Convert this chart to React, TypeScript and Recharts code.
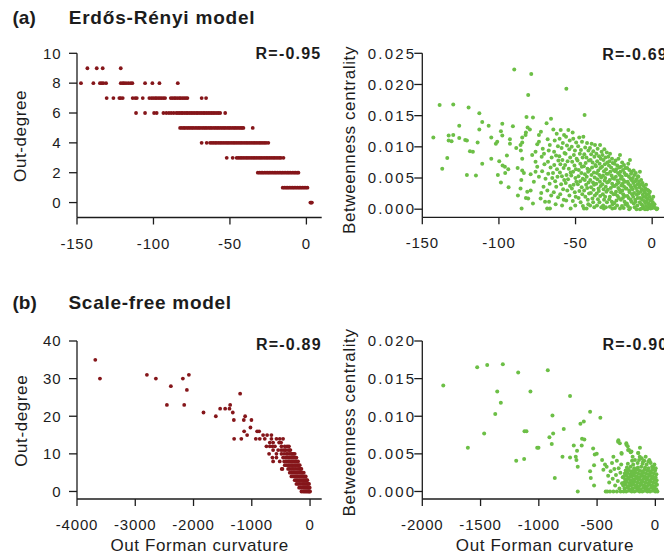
import React from 'react';
import { ScatterChart, Scatter, XAxis, YAxis } from 'recharts';

const FONT = 'Arial, "Liberation Sans", Helvetica, sans-serif';
const INK = '#1c1c1c';
const RED = '#85161a';
const GREEN = '#6cbf46';

// ---------- tick values / labels ----------
const erCurvTicks = [-150, -100, -50, 0];
const erDegTicks = [0, 2, 4, 6, 8, 10];
const erBetTicks = [0, 0.005, 0.01, 0.015, 0.02, 0.025];
const sfCurvTicksDeg = [-4000, -3000, -2000, -1000, 0];
const sfCurvTicksBet = [-2000, -1500, -1000, -500, 0];
const sfDegTicks = [0, 10, 20, 30, 40];
const sfBetTicks = [0, 0.005, 0.01, 0.015, 0.02];
const rLabels = ['R=-0.95', 'R=-0.69', 'R=-0.89', 'R=-0.90'];
const panelTitles = ['(a)', 'Erdős-Rényi model', '(b)', 'Scale-free model'];
const axisLabels = ['Out-degree', 'Betweenness centrality', 'Out Forman curvature'];

// ---------- Erdős-Rényi: out-degree vs out Forman curvature ----------
const erDegreeBands: { deg: number; curv: number[] }[] = [
  { deg: 9, curv: [-143.2, -137.1, -133.2, -121.4] },
  { deg: 8, curv: [-147.4, -139.3, -135.0, -133.9, -132.8, -131.0, -121.4, -120.1, -119.2, -117.9, -116.4, -114.9, -113.8, -105.5, -100.7, -96.1, -84.1] },
  { deg: 7, curv: [-130.6, -126.2, -122.3, -121.4, -120.1, -113.6, -112.0, -110.9, -107.0, -102.7, -101.3, -100.2, -99.0, -98.1, -96.9, -95.8, -94.7, -93.5, -92.4, -88.7, -87.6, -86.4, -85.5, -84.3, -83.1, -82.2, -81.0, -79.9, -78.8, -77.8, -68.5, -65.6] },
  { deg: 6, curv: [-111.4, -105.5, -99.6, -97.9, -93.5, -91.6, -89.9, -88.4, -86.8, -85.1, -84.0, -82.9, -81.7, -80.8, -79.6, -78.4, -77.5, -76.3, -75.2, -74.1, -73.0, -71.8, -70.9, -69.7, -68.6, -67.4, -66.5, -65.3, -64.2, -63.1, -62.0, -60.9, -59.8, -58.6, -57.5, -56.4, -53.1] },
  { deg: 5, curv: [-82.6, -81.5, -80.3, -79.4, -78.2, -77.1, -76.0, -74.9, -73.9, -72.7, -71.6, -70.5, -69.5, -68.3, -67.2, -66.1, -65.1, -63.9, -62.8, -61.8, -60.6, -59.5, -58.4, -57.4, -56.2, -55.1, -54.0, -53.0, -51.8, -50.7, -49.7, -48.5, -47.4, -46.4, -45.3, -44.2, -43.1, -42.1, -41.2, -35.1] },
  { deg: 4, curv: [-68.5, -65.2, -63.0, -61.9, -60.8, -59.7, -58.7, -57.5, -56.4, -55.4, -54.3, -53.2, -52.1, -51.1, -50.0, -48.9, -47.8, -46.8, -45.7, -44.6, -43.5, -42.5, -41.4, -40.3, -39.2, -38.2, -37.1, -36.0, -34.9, -33.9, -32.8, -31.7, -30.6, -29.6, -28.5, -27.4, -26.3, -24.9] },
  { deg: 3, curv: [-52.1, -48.2, -45.6, -44.5, -43.4, -42.4, -41.3, -40.2, -39.1, -38.1, -37.0, -35.9, -34.8, -33.8, -32.7, -31.6, -30.5, -29.5, -28.4, -27.3, -26.2, -25.2, -24.1, -23.0, -21.9, -20.9, -19.8, -18.7, -17.6, -16.6, -15.0] },
  { deg: 2, curv: [-31.8, -30.7, -29.6, -28.6, -27.5, -26.4, -25.3, -24.3, -23.2, -22.1, -21.0, -20.0, -18.9, -17.8, -16.7, -15.7, -14.6, -13.5, -12.4, -11.4, -10.3, -9.2, -8.1, -7.1, -6.0, -5.2] },
  { deg: 1, curv: [-15.5, -14.4, -13.3, -12.3, -11.2, -10.1, -9.0, -8.0, -6.9, -5.8, -4.7, -3.7, -2.6, -1.5, -0.4, 0.7] },
  { deg: 0, curv: [2.6, 3.1, 3.6] },
];

// ---------- Erdős-Rényi: betweenness vs out Forman curvature [curv, betweenness] ----------
const erBetweenness: [number, number][] = [
  [-142.8, 0.0115], [-138.7, 0.0167], [-137.0, 0.0065], [-133.7, 0.0082], [-132.8, 0.0118], [-132.8, 0.011], [-130.9, 0.0109], [-129.8, 0.0168], [-129.8, 0.0119], [-125.9, 0.0134], [-125.9, 0.0114], [-122.0, 0.0111], [-120.9, 0.011], [-120.9, 0.0055], [-119.8, 0.0163], [-118.9, 0.0093], [-117.0, 0.0092], [-115.0, 0.0054], [-113.9, 0.0107], [-112.8, 0.0154], [-112.8, 0.0128], [-110.9, 0.014], [-110.9, 0.0073], [-106.7, 0.0134], [-105.0, 0.0115], [-105.0, 0.0081], [-102.0, 0.0105], [-101.1, 0.0108], [-100.7, 0.0055], [-99.8, 0.0077], [-98.7, 0.0125], [-98.7, 0.0043], [-97.8, 0.0137], [-97.8, 0.0118], [-97.6, 0.007], [-96.1, 0.0068], [-95.9, 0.0058], [-94.8, 0.0086], [-93.9, 0.0064], [-93.7, 0.0035], [-92.8, 0.0112], [-92.8, 0.0105], [-90.9, 0.0133], [-90.0, 0.0224], [-88.7, 0.0098], [-87.8, 0.0066], [-87.6, 0.0022], [-85.9, 0.0103], [-85.9, 0.0033], [-85.7, 0.0094], [-85.4, 0.0047], [-85.2, 0.0001], [-84.8, 0.0115], [-84.8, 0.0107], [-84.8, 0.0081], [-84.8, 0.0062], [-83.7, 0.0058], [-82.6, 0.0119], [-82.4, 0.0123], [-82.4, 0.0018], [-82.0, 0.0148], [-81.5, 0.0028], [-81.3, 0.0131], [-80.9, 0.0183], [-80.9, 0.0017], [-79.8, 0.0128], [-79.3, 0.0056], [-79.3, 0.003], [-78.9, 0.0217], [-78.3, 0.0087], [-77.8, 0.0147], [-77.8, 0.0009], [-77.2, 0.0044], [-76.1, 0.0092], [-76.1, 0.0076], [-76.1, 0.006], [-75.0, 0.0104], [-75.0, 0.0068], [-73.9, 0.0119], [-73.9, 0.0108], [-73.9, 0.0052], [-72.8, 0.0017],
  [-72.6, 0.0124], [-71.4, 0.0097], [-72.1, 0.0084], [-70.3, 0.0072], [-71.8, 0.0061], [-69.6, 0.0049], [-70.9, 0.0036], [-72.4, 0.0026], [-69.9, 0.0012], [-70.6, 0.0089],
  [-68.9, 0.0138], [-66.0, 0.0145], [-68.2, 0.0112], [-66.8, 0.0103], [-67.5, 0.0094], [-65.6, 0.0083], [-68.0, 0.0076], [-66.3, 0.0067], [-67.8, 0.0057], [-65.2, 0.005], [-66.9, 0.0041], [-68.4, 0.003], [-65.9, 0.0022], [-67.3, 0.0012], [-68.5, 0.0001], [-66.7, 0.0001],
  [-64.5, 0.0128], [-62.3, 0.0121], [-63.6, 0.011], [-61.5, 0.0101], [-64.0, 0.0092], [-62.7, 0.0086], [-61.2, 0.0078], [-63.9, 0.0071], [-62.1, 0.0064], [-64.7, 0.0058], [-61.8, 0.0052], [-63.3, 0.0045], [-62.6, 0.0036], [-64.2, 0.0027], [-61.4, 0.0019], [-63.0, 0.0008],
  [-59.7, 0.0127], [-57.5, 0.0119], [-60.4, 0.0113], [-58.3, 0.0106], [-59.1, 0.0098], [-57.2, 0.009], [-60.6, 0.0085], [-58.6, 0.0079], [-59.9, 0.0072], [-57.8, 0.0066], [-60.2, 0.0059], [-58.9, 0.0053], [-57.4, 0.0047], [-59.4, 0.004], [-58.1, 0.0032], [-60.0, 0.0024], [-57.7, 0.0015], [-58.8, 0.0006], [-56.0, 0.0193],
  [-54.7, 0.0127], [-56.2, 0.0116], [-53.8, 0.011], [-55.6, 0.0102], [-54.1, 0.0096], [-56.5, 0.0089], [-53.5, 0.0083], [-55.2, 0.0077], [-56.8, 0.0071], [-54.4, 0.0065], [-53.2, 0.0059], [-55.9, 0.0055], [-54.9, 0.0048], [-56.4, 0.0042], [-53.6, 0.0037], [-55.4, 0.003], [-54.0, 0.0022], [-56.1, 0.0014], [-53.2, 0.0001],
  [-51.9, 0.0123], [-51.5, 0.0113], [-49.6, 0.0107], [-52.5, 0.01], [-50.4, 0.0094], [-51.1, 0.0087], [-49.3, 0.0081], [-52.2, 0.0076], [-50.7, 0.007], [-49.8, 0.0064], [-51.6, 0.006], [-52.8, 0.0054], [-50.1, 0.005], [-49.5, 0.0044], [-51.3, 0.0039], [-52.4, 0.0033], [-50.5, 0.0027], [-49.9, 0.002], [-51.8, 0.0013], [-50.2, 0.0006],
  [-47.6, 0.0115], [-45.8, 0.0108], [-48.3, 0.0101], [-46.5, 0.0095], [-47.2, 0.0089], [-45.4, 0.0083], [-48.7, 0.0078], [-46.9, 0.0073], [-45.9, 0.0068], [-47.9, 0.0063], [-46.2, 0.0058], [-48.1, 0.0053], [-45.3, 0.0049], [-47.0, 0.0045], [-48.5, 0.004], [-46.0, 0.0035], [-47.5, 0.0029], [-45.6, 0.0024], [-48.0, 0.0018], [-46.7, 0.0011], [-45.2, 0.0005],
  [-44.9, 0.0116], [-44.1, 0.0151], [-42.5, 0.0106], [-43.7, 0.0099], [-41.6, 0.0094], [-44.3, 0.0088], [-42.9, 0.0083], [-41.3, 0.0078], [-43.4, 0.0074], [-44.6, 0.0069], [-42.2, 0.0065], [-41.8, 0.006], [-43.9, 0.0056], [-42.7, 0.0052], [-44.0, 0.0047], [-41.5, 0.0043], [-43.1, 0.0039], [-42.4, 0.0034], [-44.4, 0.003], [-41.2, 0.0025], [-43.6, 0.002], [-42.0, 0.0015], [-44.5, 0.0001], [-42.8, 0.0001], [-41.7, 0.0008],
  [-39.5, 0.0105], [-37.3, 0.0103], [-40.6, 0.0098], [-38.4, 0.0093], [-39.8, 0.0088], [-37.7, 0.0084], [-40.2, 0.0079], [-38.9, 0.0075], [-37.1, 0.0071], [-39.2, 0.0067], [-40.8, 0.0063], [-38.0, 0.0059], [-39.6, 0.0055], [-37.5, 0.0051], [-40.4, 0.0047], [-38.6, 0.0043], [-37.9, 0.0039], [-39.9, 0.0035], [-38.2, 0.0031], [-40.0, 0.0026], [-37.4, 0.0022], [-39.0, 0.0017], [-38.5, 0.0011], [-40.5, 0.0006], [-37.8, 0.0003],
  [-34.0, 0.0103], [-33.0, 0.0092], [-35.6, 0.0097], [-36.4, 0.0089], [-34.7, 0.0085], [-33.5, 0.0081], [-35.9, 0.0077], [-34.3, 0.0073], [-36.7, 0.0069], [-33.8, 0.0066], [-35.2, 0.0062], [-36.1, 0.0058], [-34.5, 0.0055], [-33.3, 0.0051], [-35.7, 0.0048], [-34.1, 0.0044], [-36.5, 0.0041], [-33.6, 0.0037], [-35.0, 0.0033], [-34.8, 0.0029], [-36.2, 0.0025], [-33.9, 0.0021], [-35.4, 0.0016], [-34.4, 0.0011], [-36.0, 0.0006], [-33.2, 0.0003],
  [-31.2, 0.0096], [-29.6, 0.0091], [-32.4, 0.0087], [-30.5, 0.0083], [-31.8, 0.0079], [-29.3, 0.0075], [-30.9, 0.0072], [-32.7, 0.0068], [-30.1, 0.0064], [-31.5, 0.0061], [-29.8, 0.0057], [-32.1, 0.0054], [-30.6, 0.005], [-31.0, 0.0046], [-29.4, 0.0043], [-32.5, 0.004], [-30.3, 0.0036], [-31.7, 0.0032], [-29.9, 0.0028], [-32.2, 0.0024], [-30.7, 0.002], [-31.4, 0.0015], [-29.5, 0.0011], [-32.0, 0.0006], [-31.5, 0.0001], [-30.2, 0.0003],
  [-27.5, 0.0089], [-28.6, 0.0084], [-26.2, 0.0081], [-27.9, 0.0077], [-25.7, 0.0074], [-28.2, 0.007], [-26.8, 0.0067], [-25.3, 0.0063], [-27.3, 0.006], [-28.8, 0.0057], [-26.5, 0.0054], [-25.9, 0.005], [-27.7, 0.0047], [-28.4, 0.0044], [-26.1, 0.0041], [-25.5, 0.0037], [-27.0, 0.0034], [-28.9, 0.0031], [-26.7, 0.0027], [-25.2, 0.0024], [-27.6, 0.002], [-28.0, 0.0016], [-26.3, 0.0012], [-25.8, 0.0008], [-27.6, 0.0004], [-26.0, 0.0001],
  [-22.0, 0.0081], [-21.0, 0.0087], [-23.9, 0.0078], [-24.6, 0.0073], [-22.8, 0.007], [-21.5, 0.0067], [-23.4, 0.0064], [-24.2, 0.0061], [-22.3, 0.0058], [-21.2, 0.0055], [-23.7, 0.0052], [-24.8, 0.0049], [-22.6, 0.0046], [-21.8, 0.0043], [-23.1, 0.004], [-24.4, 0.0037], [-22.1, 0.0034], [-21.4, 0.0031], [-23.6, 0.0028], [-24.0, 0.0024], [-22.5, 0.0021], [-21.7, 0.0018], [-23.3, 0.0014], [-24.7, 0.001], [-22.9, 0.0006], [-21.0, 0.0001], [-24.3, 0.0002],
  [-19.6, 0.0075], [-18.4, 0.0071], [-20.3, 0.0068], [-17.5, 0.0066], [-19.0, 0.0063], [-20.7, 0.006], [-18.1, 0.0058], [-17.3, 0.0055], [-19.8, 0.0052], [-20.5, 0.0049], [-18.7, 0.0047], [-17.7, 0.0044], [-19.3, 0.0041], [-20.1, 0.0038], [-18.3, 0.0036], [-17.2, 0.0033], [-19.5, 0.003], [-20.8, 0.0027], [-18.9, 0.0024], [-17.9, 0.0021], [-19.1, 0.0018], [-20.4, 0.0015], [-18.0, 0.0012], [-17.4, 0.0008], [-19.7, 0.0005], [-18.6, 0.0002],
  [-15.6, 0.0073], [-14.5, 0.0079], [-13.4, 0.006], [-16.3, 0.0066], [-14.9, 0.0063], [-13.8, 0.0057], [-16.6, 0.0055], [-15.2, 0.0052], [-14.1, 0.0049], [-13.2, 0.0046], [-16.0, 0.0044], [-15.5, 0.0041], [-14.3, 0.0038], [-13.6, 0.0035], [-16.8, 0.0033], [-15.0, 0.003], [-14.7, 0.0027], [-13.1, 0.0024], [-16.2, 0.0021], [-15.3, 0.0018], [-14.0, 0.0015], [-13.5, 0.0012], [-16.5, 0.0009], [-15.8, 0.0005], [-14.4, 0.0002], [-15.0, 0.0],
  [-12.1, 0.0062], [-10.7, 0.0058], [-11.6, 0.0055], [-9.3, 0.0053], [-12.6, 0.005], [-10.2, 0.0048], [-11.0, 0.0045], [-9.0, 0.0052], [-12.3, 0.0042], [-9.6, 0.004], [-11.3, 0.0037], [-10.5, 0.0034], [-12.8, 0.0032], [-9.8, 0.0029], [-11.8, 0.0026], [-10.0, 0.0023], [-12.4, 0.002], [-9.4, 0.0018], [-11.1, 0.0015], [-10.8, 0.0012], [-12.0, 0.0009], [-9.7, 0.0006], [-11.5, 0.0003], [-10.2, 0.0],
  [-8.0, 0.006], [-7.2, 0.0047], [-8.6, 0.0044], [-6.3, 0.0042], [-7.7, 0.0039], [-5.6, 0.0037], [-8.3, 0.0035], [-6.8, 0.0032], [-5.3, 0.003], [-7.4, 0.0028], [-8.8, 0.0025], [-6.1, 0.0023], [-5.8, 0.002], [-7.9, 0.0018], [-6.6, 0.0015], [-5.1, 0.0013], [-8.1, 0.0011], [-7.0, 0.0008], [-6.0, 0.0005], [-8.0, 0.0], [-6.9, 0.0001], [-5.5, 0.0002],
  [-4.0, 0.0039], [-2.5, 0.003], [-1.5, 0.0028], [-4.5, 0.0033], [-3.3, 0.0031], [-2.1, 0.0025], [-4.8, 0.0027], [-3.7, 0.0023], [-1.8, 0.002], [-4.2, 0.0019], [-2.9, 0.0017], [-1.2, 0.0014], [-3.5, 0.0013], [-4.6, 0.001], [-2.3, 0.0009], [-1.6, 0.0006], [-3.9, 0.0005], [-2.7, 0.0002], [-4.7, 0.0], [-3.2, 0.0], [-1.0, 0.0001],
  [0.7, 0.002], [-0.3, 0.0016], [0.4, 0.0011], [1.5, 0.0008], [-0.6, 0.0007], [0.9, 0.0004], [2.0, 0.0002], [3.3, 0.0001], [2.9, 0.0], [0.1, 0.0002],
];

// ---------- Scale-free: out-degree vs out Forman curvature ----------
const sfDegreeBands: { deg: number; curv: number[] }[] = [
  { deg: 35, curv: [-3686] },
  { deg: 31, curv: [-2800, -2080] },
  { deg: 30, curv: [-3606, -2646, -2183] },
  { deg: 28, curv: [-2389] },
  { deg: 27, curv: [-2114] },
  { deg: 26, curv: [-1200] },
  { deg: 23, curv: [-2457, -2160, -1371] },
  { deg: 22, curv: [-1543, -1457, -1383] },
  { deg: 21, curv: [-1829, -1326] },
  { deg: 20, curv: [-1617, -1114] },
  { deg: 19, curv: [-1308, -1137, -1006] },
  { deg: 17, curv: [-1023] },
  { deg: 16, curv: [-1131, -908, -874] },
  { deg: 15, curv: [-1080, -806, -737, -663] },
  { deg: 14, curv: [-1303, -1180, -931, -863, -777, -663, -577, -520, -463] },
  { deg: 13, curv: [-691, -634, -531, -497] },
  { deg: 12, curv: [-749, -691, -646, -602, -491, -434, -394, -362] },
  { deg: 11, curv: [-634, -548, -497, -463, -431, -417, -377, -352, -337] },
  { deg: 10, curv: [-703, -577, -491, -446, -406, -381, -348, -322, -303, -281, -263] },
  { deg: 9, curv: [-646, -577, -463, -423, -398, -374, -352, -326, -301, -277, -252, -234] },
  { deg: 8, curv: [-634, -520, -444, -412, -377, -349, -324, -298, -273, -250, -229, -206] },
  { deg: 7, curv: [-434, -402, -371, -344, -318, -296, -269, -244, -221, -199, -177] },
  { deg: 6, curv: [-486, -474, -377, -352, -326, -301, -276, -252, -224, -199, -176, -160, -148] },
  { deg: 5, curv: [-348, -318, -294, -268, -243, -221, -196, -171, -149, -130, -108] },
  { deg: 4, curv: [-320, -292, -263, -238, -216, -191, -166, -141, -118, -96, -74] },
  { deg: 3, curv: [-263, -238, -214, -189, -166, -141, -119, -99, -79, -61, -46] },
  { deg: 2, curv: [-234, -207, -182, -156, -131, -109, -89, -68, -49, -31, -17] },
  { deg: 1, curv: [-188, -161, -133, -109, -88, -69, -51, -34, -19, -6] },
  { deg: 0, curv: [-148, -119, -94, -72, -51, -31, -14, 0] },
];

// ---------- Scale-free: betweenness vs out Forman curvature [curv, betweenness] ----------
const sfBetweenness: [number, number][] = [
  [-1820, 0.0141], [-1609, 0.0058], [-1529, 0.0165], [-1443, 0.0168], [-1309, 0.0169], [-1177, 0.0158], [-923, 0.0161], [-1357, 0.0133], [-1326, 0.0118], [-1374, 0.0103], [-1469, 0.0077], [-1194, 0.0041], [-1126, 0.0043], [-1123, 0.008], [-1106, 0.008], [-1072, 0.0133], [-1014, 0.0058], [-1003, 0.0058], [-883, 0.0101], [-909, 0.0072], [-877, 0.0077], [-889, 0.0063], [-863, 0.0018], [-786, 0.0083], [-732, 0.0127], [-797, 0.0046], [-732, 0.0045], [-700, 0.0061], [-683, 0.0046], [-677, 0.0042], [-672, 0.0054], [-666, 0.0033], [-666, 0.0], [-643, 0.009], [-614, 0.0093], [-632, 0.0061], [-629, 0.007], [-609, 0.0069], [-560, 0.0106], [-560, 0.0027], [-554, 0.0018], [-534, 0.0057], [-526, 0.0035], [-526, 0.0008], [-520, 0.0049], [-503, 0.005], [-472, 0.0098], [-457, 0.0042], [-446, 0.0029], [-432, 0.0036], [-426, 0.0], [-389, 0.0],
  [-360, 0.0046], [-320, 0.0066], [-317, 0.0068], [-305, 0.0064], [-291, 0.0051], [-289, 0.005], [-248, 0.0062], [-249, 0.0064], [-237, 0.006], [-234, 0.0055], [-226, 0.0055], [-212, 0.0052], [-205, 0.0053], [-195, 0.0046], [-175, 0.0042], [-148, 0.0051], [-146, 0.0051], [-134, 0.0046], [-132, 0.0058], [-117, 0.0044], [-105, 0.004], [-83, 0.0046], [-60, 0.004], [-48, 0.004], [-20, 0.0033],
  [-418, 0.0033], [-405, 0.0021], [-396, 0.0012], [-384, 0.0027], [-372, 0.0038], [-366, 0.0017], [-352, 0.003], [-345, 0.0008], [-338, 0.0022], [-330, 0.0041], [-322, 0.0014], [-315, 0.0031], [-308, 0.0004], [-300, 0.0025], [-293, 0.0036], [-286, 0.0011], [-280, 0.0019], [-412, 0.0], [-360, 0.0], [-330, 0.0], [-298, 0.0],
  [-272, 0.0], [-250, 0.0], [-226, 0.0001], [-203, 0.0], [-180, 0.0], [-158, 0.0001], [-135, 0.0], [-112, 0.0], [-90, 0.0001], [-68, 0.0], [-45, 0.0], [-22, 0.0001], [0, 0.0], [18, 0.0],
  [-265, 0.0004], [-241, 0.0005], [-219, 0.0003], [-196, 0.0004], [-172, 0.0005], [-149, 0.0004], [-127, 0.0003], [-104, 0.0005], [-81, 0.0004], [-59, 0.0003], [-36, 0.0005], [-13, 0.0004], [8, 0.0003],
  [-276, 0.0008], [-254, 0.0009], [-231, 0.0007], [-208, 0.0008], [-186, 0.0009], [-163, 0.0008], [-140, 0.0007], [-118, 0.0009], [-95, 0.0008], [-72, 0.0007], [-50, 0.0009], [-27, 0.0008], [-4, 0.0007], [14, 0.0009],
  [-268, 0.0012], [-245, 0.0013], [-222, 0.0011], [-199, 0.0012], [-177, 0.0013], [-154, 0.0012], [-131, 0.0011], [-109, 0.0013], [-86, 0.0012], [-63, 0.0011], [-41, 0.0013], [-18, 0.0012], [5, 0.0011],
  [-259, 0.0016], [-237, 0.0017], [-214, 0.0015], [-191, 0.0016], [-168, 0.0017], [-146, 0.0016], [-123, 0.0015], [-100, 0.0017], [-77, 0.0016], [-55, 0.0015], [-32, 0.0017], [-9, 0.0016], [11, 0.0015],
  [-270, 0.002], [-248, 0.0021], [-225, 0.0019], [-203, 0.002], [-180, 0.0021], [-157, 0.002], [-134, 0.0019], [-112, 0.0021], [-89, 0.002], [-66, 0.0019], [-44, 0.0021], [-21, 0.002], [2, 0.0019],
  [-262, 0.0024], [-239, 0.0025], [-216, 0.0023], [-193, 0.0024], [-171, 0.0025], [-148, 0.0024], [-125, 0.0023], [-103, 0.0025], [-80, 0.0024], [-57, 0.0023], [-35, 0.0025], [-12, 0.0024], [9, 0.0023],
  [-255, 0.0028], [-230, 0.0029], [-208, 0.0027], [-185, 0.0028], [-160, 0.0029], [-138, 0.0028], [-116, 0.0027], [-93, 0.0029], [-70, 0.0028], [-47, 0.0027], [-24, 0.0029], [-2, 0.0028],
  [-244, 0.0032], [-212, 0.0033], [-181, 0.0031], [-150, 0.0032], [-121, 0.0033], [-88, 0.0032], [-58, 0.0031], [-28, 0.0033], [3, 0.0031],
  [-236, 0.0037], [-190, 0.0036], [-152, 0.0038], [-110, 0.0037], [-75, 0.0036], [-40, 0.0038], [-8, 0.0036],
  [-200, 0.0041], [-140, 0.0042], [-95, 0.0041], [-52, 0.0042],
];

// ---------- tables built for the library ----------
const erDegreeData = erDegreeBands.flatMap((b) => b.curv.map((c) => ({ x: c, y: b.deg })));
const sfDegreeData = sfDegreeBands.flatMap((b) => b.curv.map((c) => ({ x: c, y: b.deg })));
const erBetData = erBetweenness.map(([x, y]) => ({ x, y }));
const sfBetData = sfBetweenness.map(([x, y]) => ({ x, y }));

type PanelProps = {
  left: number;
  top: number;
  width: number;
  height: number;
  margin: { top: number; right: number; bottom: number; left: number };
  yWidth: number;
  data: { x: number; y: number }[];
  xDomain: [number, number];
  xTicks: number[];
  yDomain: [number, number];
  yTicks: number[];
  yDecimals: number;
  yDx: number;
  yLs: number;
  color: string;
  r: number;
};

function Panel(p: PanelProps) {
  const axisStyle = { stroke: INK, strokeWidth: 1.3 };
  const xTick = (t: any) => (
    <text
      x={t.x}
      y={t.y + 24}
      textAnchor="middle"
      fontFamily={FONT}
      fontSize={15}
      letterSpacing={0.8}
      fill={INK}
    >
      {String(t.payload.value)}
    </text>
  );
  const yTick = (t: any) => (
    <text
      x={t.x + p.yDx}
      y={t.y + 5.3}
      textAnchor="end"
      fontFamily={FONT}
      fontSize={15}
      letterSpacing={p.yLs}
      fill={INK}
    >
      {Number(t.payload.value).toFixed(p.yDecimals)}
    </text>
  );
  const shape = (s: any) => <circle cx={s.cx} cy={s.cy} r={p.r} fill={p.color} />;
  return (
    <div style={{ position: 'absolute', left: p.left, top: p.top }}>
      <ScatterChart width={p.width} height={p.height} margin={p.margin}>
        <XAxis
          type="number"
          dataKey="x"
          domain={p.xDomain}
          ticks={p.xTicks}
          allowDataOverflow
          interval={0}
          height={40}
          tickSize={7}
          tickMargin={0}
          axisLine={axisStyle}
          tickLine={axisStyle}
          tick={xTick}
        />
        <YAxis
          type="number"
          dataKey="y"
          domain={p.yDomain}
          ticks={p.yTicks}
          allowDataOverflow
          interval={0}
          width={p.yWidth}
          tickSize={8}
          tickMargin={0}
          axisLine={axisStyle}
          tickLine={axisStyle}
          tick={yTick}
        />
        <Scatter data={p.data} fill={p.color} isAnimationActive={false} shape={shape} />
      </ScatterChart>
    </div>
  );
}

export default function App() {
  const titleStyle = { fontFamily: FONT, fontSize: 19, fontWeight: 700, fill: INK } as const;
  const rStyle = { fontFamily: FONT, fontSize: 16, fontWeight: 700, fill: INK } as const;
  const labStyle = { fontFamily: FONT, fontSize: 17, fill: INK } as const;
  return (
    <div
      style={{
        position: 'absolute',
        left: 0,
        top: 0,
        width: 664,
        height: 557,
        overflow: 'hidden',
        background: '#ffffff',
      }}
    >
      <Panel
        left={0}
        top={30}
        width={340}
        height={240}
        margin={{ top: 23.3, right: 18.3, bottom: 12.5, left: 0 }}
        yWidth={77}
        data={erDegreeData}
        xDomain={[-150, 10]}
        xTicks={erCurvTicks}
        yDomain={[-1, 10]}
        yTicks={erDegTicks}
        yDecimals={0}
        yDx={-7.4}
        yLs={1}
        color={RED}
        r={1.9}
      />
      <Panel
        left={345}
        top={30}
        width={340}
        height={240}
        margin={{ top: 23.3, right: 17.5, bottom: 12.7, left: 0 }}
        yWidth={77.3}
        data={erBetData}
        xDomain={[-150, 10]}
        xTicks={erCurvTicks}
        yDomain={[-0.0013, 0.025]}
        yTicks={erBetTicks}
        yDecimals={3}
        yDx={2}
        yLs={2.2}
        color={GREEN}
        r={2}
      />
      <Panel
        left={0}
        top={310}
        width={340}
        height={247}
        margin={{ top: 31, right: 18.3, bottom: 18, left: 0 }}
        yWidth={77}
        data={sfDegreeData}
        xDomain={[-4000, 200]}
        xTicks={sfCurvTicksDeg}
        yDomain={[-2, 40]}
        yTicks={sfDegTicks}
        yDecimals={0}
        yDx={-7.4}
        yLs={1}
        color={RED}
        r={1.9}
      />
      <Panel
        left={345}
        top={310}
        width={340}
        height={247}
        margin={{ top: 31, right: 18, bottom: 18, left: 0 }}
        yWidth={77.3}
        data={sfBetData}
        xDomain={[-2000, 100]}
        xTicks={sfCurvTicksBet}
        yDomain={[-0.001, 0.02]}
        yTicks={sfBetTicks}
        yDecimals={3}
        yDx={2}
        yLs={2.2}
        color={GREEN}
        r={2}
      />
      <svg
        width={664}
        height={557}
        style={{ position: 'absolute', left: 0, top: 0, pointerEvents: 'none' }}
      >
        <text x={12.5} y={23.5} {...titleStyle}>{panelTitles[0]}</text>
        <text x={68.7} y={23.5} {...titleStyle} letterSpacing={0.8}>{panelTitles[1]}</text>
        <text x={12.5} y={308.5} {...titleStyle}>{panelTitles[2]}</text>
        <text x={68.5} y={308.5} {...titleStyle} letterSpacing={0.7}>{panelTitles[3]}</text>

        <text x={255.6} y={59.3} {...rStyle} letterSpacing={1.2}>{rLabels[0]}</text>
        <text x={602.2} y={59.5} {...rStyle} letterSpacing={1.2}>{rLabels[1]}</text>
        <text x={256} y={349.5} {...rStyle} letterSpacing={1.2}>{rLabels[2]}</text>
        <text x={602.6} y={349.5} {...rStyle} letterSpacing={1.2}>{rLabels[3]}</text>

        <text x={26} y={135.9} {...labStyle} letterSpacing={0.6} textAnchor="middle" transform="rotate(-90 26 135.9)">{axisLabels[0]}</text>
        <text x={355} y={140} {...labStyle} letterSpacing={0.6} textAnchor="middle" transform="rotate(-90 355 140)">{axisLabels[1]}</text>
        <text x={27} y={420.8} {...labStyle} letterSpacing={0.6} textAnchor="middle" transform="rotate(-90 27 420.8)">{axisLabels[0]}</text>
        <text x={355} y={422.5} {...labStyle} letterSpacing={0.6} textAnchor="middle" transform="rotate(-90 355 422.5)">{axisLabels[1]}</text>

        <text x={199.6} y={551.3} {...labStyle} letterSpacing={0.6} textAnchor="middle">{axisLabels[2]}</text>
        <text x={545} y={551.3} {...labStyle} letterSpacing={0.6} textAnchor="middle">{axisLabels[2]}</text>
      </svg>
    </div>
  );
}
